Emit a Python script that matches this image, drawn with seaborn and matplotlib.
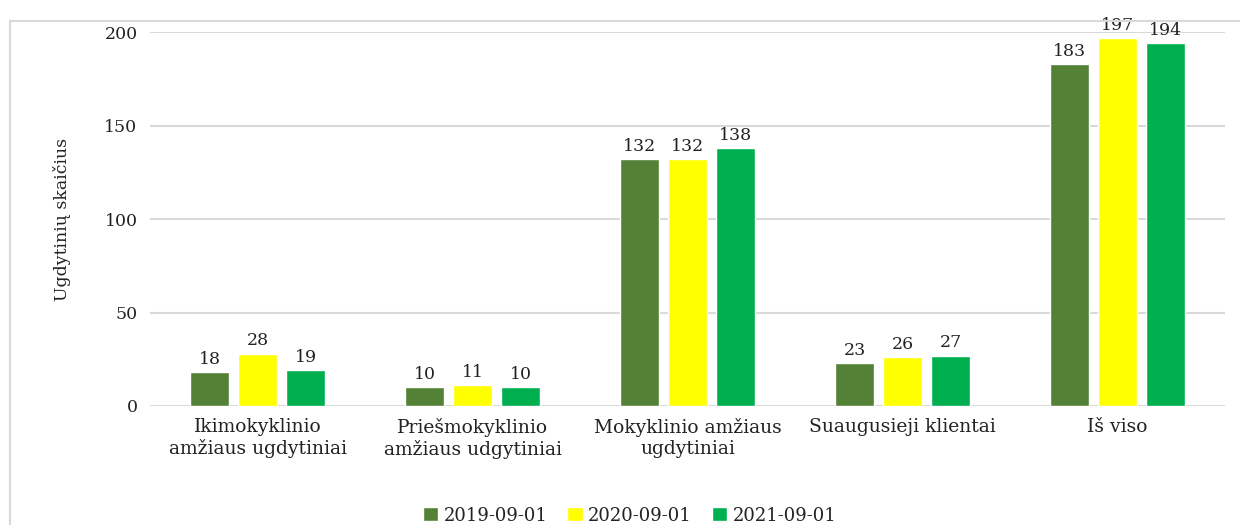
import matplotlib
matplotlib.use("Agg")
import matplotlib.pyplot as plt
import seaborn as sns
import pandas as pd
from matplotlib.patches import Rectangle

# Duomenys
kategorijos = ["Ikimokyklinio\namžiaus ugdytiniai", "Priešmokyklinio\namžiaus udgytiniai",
               "Mokyklinio amžiaus\nugdytiniai", "Suaugusieji klientai", "Iš viso"]
datos = ["2019-09-01", "2020-09-01", "2021-09-01"]
v2019 = [18, 10, 132, 23, 183]
v2020 = [28, 11, 132, 26, 197]
v2021 = [19, 10, 138, 27, 194]
spalvos = ["#538135", "#FFFF00", "#00B050"]

df = pd.DataFrame({
    "kategorija": kategorijos * 3,
    "data": [d for d in datos for _ in kategorijos],
    "reiksme": v2019 + v2020 + v2021,
})

sns.set_theme(style="white")
plt.rcParams["font.family"] = ["DejaVu Serif"]

fig = plt.figure(figsize=(12.4, 5.25), dpi=100)
ax = fig.add_axes([0.121, 0.2267, 0.867, 0.712])

sns.barplot(data=df, x="kategorija", y="reiksme", hue="data", palette=spalvos,
            width=0.67, gap=0.2, saturation=1, ax=ax, errorbar=None)

for c in ax.containers:
    ax.bar_label(c, padding=3, fontsize=12.5, color="#222222", clip_on=False)

ax.set_ylim(0, 200)
ax.set_yticks([0, 50, 100, 150, 200])
ax.yaxis.grid(True, color="#d9d9d9", linewidth=1.5)
ax.set_axisbelow(True)
sns.despine(ax=ax, left=True, bottom=True, top=True, right=True)
ax.tick_params(axis="y", length=0, pad=9, labelsize=12.5, labelcolor="#222222")
ax.tick_params(axis="x", length=0, pad=9, labelsize=13.5, labelcolor="#222222")
for t in ax.get_xticklabels():
    t.set_linespacing(1.2)
ax.set_xlabel("")
ax.set_ylabel("Ugdytinių skaičius", fontsize=12.5, color="#222222", labelpad=24)

ax.legend(loc="center", bbox_to_anchor=(0.446, -0.293), ncol=3, frameon=False,
          fontsize=13, handlelength=0.85, handleheight=0.85, handletextpad=0.3,
          columnspacing=1.1, labelcolor="#222222")

# remelis
fig.patches.append(Rectangle((10 / 1240, -0.1), 1.1, (1 - 21 / 525) + 0.1,
                             transform=fig.transFigure, fill=False,
                             edgecolor="#d9d9d9", linewidth=1.5))

fig.savefig("out.png", dpi=100)
